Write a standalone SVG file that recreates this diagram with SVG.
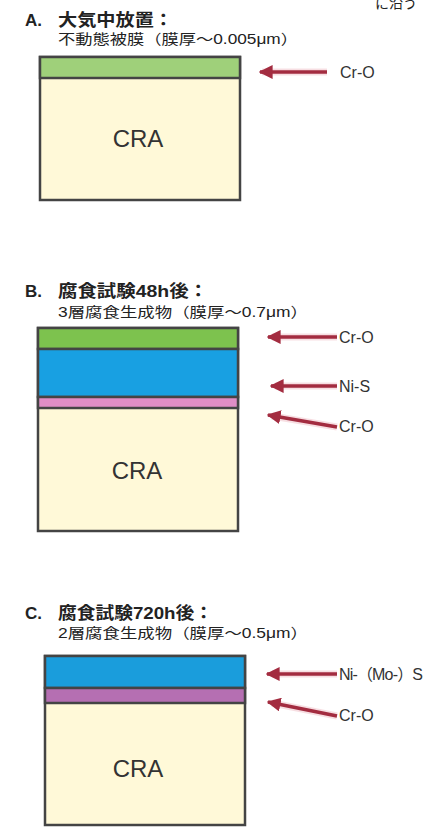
<svg xmlns="http://www.w3.org/2000/svg" width="424" height="828" viewBox="0 0 424 828">
<style>
.t{font-family:"Liberation Sans","Noto Sans CJK JP",sans-serif;fill:#222}
.title{font-size:17px;font-weight:bold}
.sub{font-size:14px}
.lbl{font-family:"Liberation Sans","Noto Sans CJK JP",sans-serif;font-size:16px;fill:#333}
.cra{font-family:"Liberation Sans",sans-serif;font-size:24px;fill:#333;text-anchor:middle}
.box{stroke:#444;stroke-width:2.5}
.base{fill:#fff9d8}
.arr{stroke:#a32c40;stroke-width:3.5;fill:none;marker-end:url(#ah)}
.halo{stroke:#e8a0ac;stroke-width:7;fill:none;opacity:0.35}
</style>
<defs>
<marker id="ah" viewBox="0 0 10 10" refX="9" refY="5" markerWidth="4" markerHeight="4" orient="auto" markerUnits="strokeWidth">
<path d="M0,0 L10,5 L0,10 Z" fill="#a32c40"/>
</marker>
</defs>
<rect width="424" height="828" fill="#fff"/>
<text class="t sub" x="375" y="8">に沿う</text>

<g id="A">
<text class="t title" x="25" y="26">A.</text>
<text class="t title" x="58" y="26" textLength="115" lengthAdjust="spacingAndGlyphs">大気中放置：</text>
<text class="t sub" x="58" y="44" textLength="240" lengthAdjust="spacingAndGlyphs">不動態被膜（膜厚～0.005μm）</text>
<rect class="base box" x="40" y="57" width="200" height="143"/>
<rect class="box" x="40" y="57" width="200" height="21" fill="#9fd07a"/>
<text class="cra" x="138" y="147">CRA</text>
</g>

<g id="B">
<text class="t title" x="25" y="297">B.</text>
<text class="t title" x="58" y="297" textLength="150" lengthAdjust="spacingAndGlyphs">腐食試験48h後：</text>
<text class="t sub" x="58" y="317" textLength="250" lengthAdjust="spacingAndGlyphs">3層腐食生成物（膜厚～0.7μm）</text>
<rect class="base box" x="38" y="328" width="200" height="203"/>
<rect class="box" x="38" y="328" width="200" height="21" fill="#7dc24e"/>
<rect class="box" x="38" y="349" width="200" height="48" fill="#18a0e2"/>
<rect class="box" x="38" y="397" width="200" height="11" fill="#e08ec6"/>
<text class="cra" x="137" y="479">CRA</text>
</g>

<g id="C">
<text class="t title" x="25" y="619">C.</text>
<text class="t title" x="58" y="619" textLength="155" lengthAdjust="spacingAndGlyphs">腐食試験720h後：</text>
<text class="t sub" x="58" y="638" textLength="250" lengthAdjust="spacingAndGlyphs">2層腐食生成物（膜厚～0.5μm）</text>
<rect class="base box" x="45" y="656" width="200" height="169"/>
<rect class="box" x="45" y="656" width="200" height="32" fill="#1a9ddc"/>
<rect class="box" x="45" y="688" width="200" height="15" fill="#b56fb2"/>
<text class="cra" x="138" y="777">CRA</text>
</g>

<g id="connectors">
<line class="halo" x1="327" y1="72" x2="262" y2="72"/>
<line class="arr" x1="327" y1="72" x2="260" y2="72"/>
<line class="halo" x1="337" y1="337" x2="272" y2="337"/>
<line class="arr" x1="337" y1="337" x2="268" y2="337"/>
<line class="halo" x1="337" y1="386" x2="275" y2="386"/>
<line class="arr" x1="337" y1="386" x2="271" y2="386"/>
<line class="halo" x1="337" y1="427" x2="272" y2="416"/>
<line class="arr" x1="337" y1="427" x2="268" y2="415"/>
<line class="halo" x1="337" y1="674" x2="272" y2="674"/>
<line class="arr" x1="337" y1="674" x2="267" y2="674"/>
<line class="halo" x1="337" y1="716" x2="272" y2="703"/>
<line class="arr" x1="337" y1="716" x2="268" y2="702"/>
</g>

<g id="labels">
<text class="lbl" x="340" y="78">Cr-O</text>
<text class="lbl" x="339" y="343">Cr-O</text>
<text class="lbl" x="339" y="392">Ni-S</text>
<text class="lbl" x="339" y="432">Cr-O</text>
<text class="lbl" x="339" y="680" textLength="84" lengthAdjust="spacing">Ni-（Mo-）S</text>
<text class="lbl" x="339" y="721">Cr-O</text>
</g>
</svg>
